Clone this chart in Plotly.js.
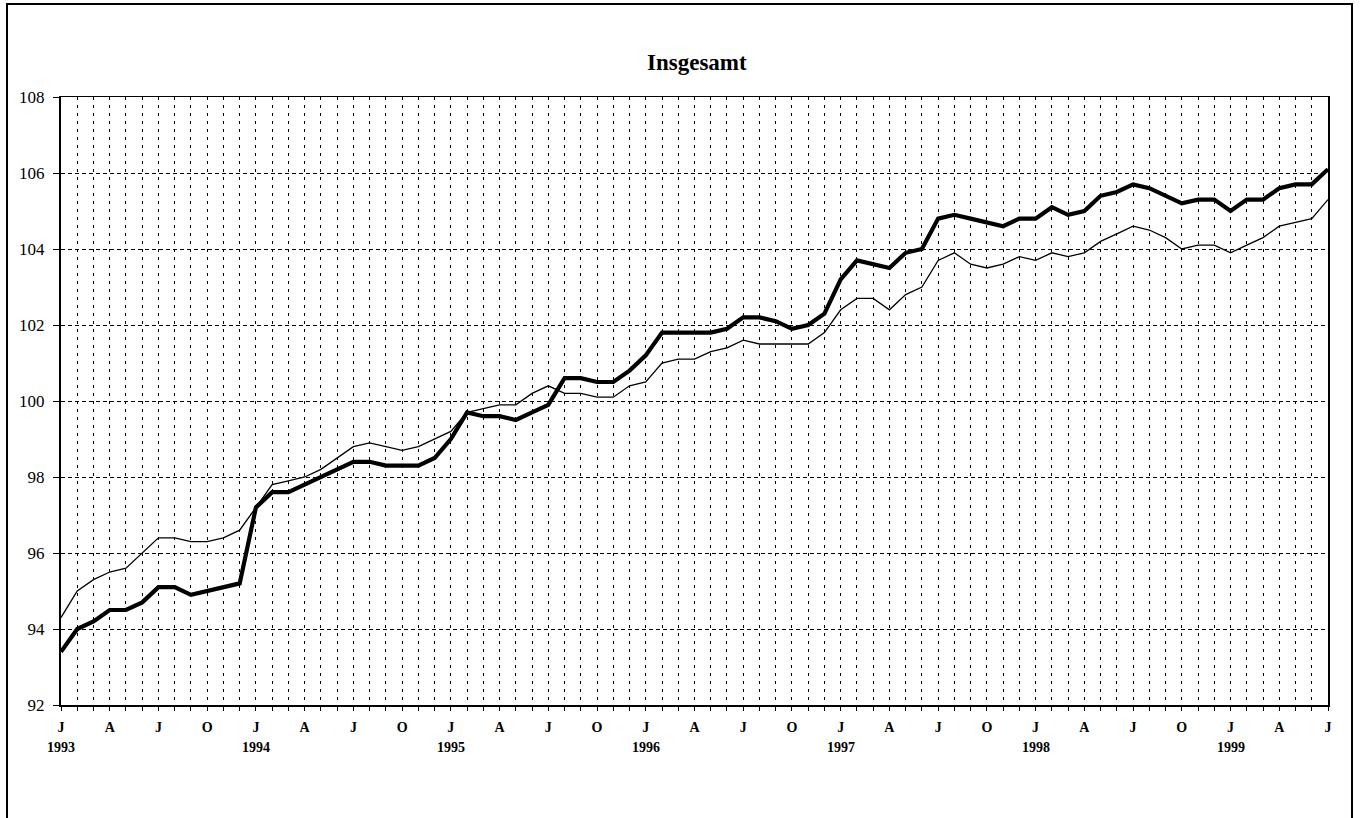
<!DOCTYPE html>
<html>
<head>
<meta charset="utf-8">
<script src="https://cdn.plot.ly/plotly-3.0.1.min.js"></script>
<style>html,body{margin:0;padding:0;background:#fff;}#chart{width:1361px;height:818px;}</style>
</head>
<body>
<div id="chart"></div>
<script>
// Monthly data, January 1993 to July 1999
var years = ['1993','1994','1995','1996','1997','1998','1999'];
var monthLetters = ['J','F','M','A','M','J','J','A','S','O','N','D'];
var thinSeries = [
  94.3, 95.0, 95.3, 95.5, 95.6, 96.0, 96.4, 96.4, 96.3, 96.3, 96.4, 96.6,
  97.2, 97.8, 97.9, 98.0, 98.2, 98.5, 98.8, 98.9, 98.8, 98.7, 98.8, 99.0,
  99.2, 99.7, 99.8, 99.9, 99.9, 100.2, 100.4, 100.2, 100.2, 100.1, 100.1, 100.4,
  100.5, 101.0, 101.1, 101.1, 101.3, 101.4, 101.6, 101.5, 101.5, 101.5, 101.5, 101.8,
  102.4, 102.7, 102.7, 102.4, 102.8, 103.0, 103.7, 103.9, 103.6, 103.5, 103.6, 103.8,
  103.7, 103.9, 103.8, 103.9, 104.2, 104.4, 104.6, 104.5, 104.3, 104.0, 104.1, 104.1,
  103.9, 104.1, 104.3, 104.6, 104.7, 104.8, 105.3
];
var thickSeries = [
  93.4, 94.0, 94.2, 94.5, 94.5, 94.7, 95.1, 95.1, 94.9, 95.0, 95.1, 95.2,
  97.2, 97.6, 97.6, 97.8, 98.0, 98.2, 98.4, 98.4, 98.3, 98.3, 98.3, 98.5,
  99.0, 99.7, 99.6, 99.6, 99.5, 99.7, 99.9, 100.6, 100.6, 100.5, 100.5, 100.8,
  101.2, 101.8, 101.8, 101.8, 101.8, 101.9, 102.2, 102.2, 102.1, 101.9, 102.0, 102.3,
  103.2, 103.7, 103.6, 103.5, 103.9, 104.0, 104.8, 104.9, 104.8, 104.7, 104.6, 104.8,
  104.8, 105.1, 104.9, 105.0, 105.4, 105.5, 105.7, 105.6, 105.4, 105.2, 105.3, 105.3,
  105.0, 105.3, 105.3, 105.6, 105.7, 105.7, 106.1
];
var yTicks = [92, 94, 96, 98, 100, 102, 104, 106, 108];

var n = thickSeries.length;
var xIdx = [], tickText = [];
for (var i = 0; i < n; i++) {
  xIdx.push(i);
  var m = i % 12;
  tickText.push(m % 3 === 0 ? '<b>' + monthLetters[m] + '</b>' : '');
}

var serif = 'Liberation Serif, Times New Roman, serif';

var traces = [
  {x: xIdx, y: thinSeries, mode: 'lines', line: {color: '#000', width: 1.3}, hoverinfo: 'skip', showlegend: false},
  {x: xIdx, y: thickSeries, mode: 'lines', line: {color: '#000', width: 4.2}, hoverinfo: 'skip', showlegend: false}
];

var annotations = years.map(function (yr, k) {
  return {x: k * 12, y: -42 / 608, xref: 'x', yref: 'paper', text: '<b>' + yr + '</b>',
    showarrow: false, xanchor: 'center', yanchor: 'middle', font: {family: serif, size: 14, color: '#000'}};
});

var layout = {
  width: 1361, height: 818,
  margin: {l: 61, r: 33, t: 97, b: 113},
  paper_bgcolor: '#fff', plot_bgcolor: '#fff',
  title: {text: '<b>Insgesamt</b>', x: 0.512, xanchor: 'center', y: 1 - 62 / 818, yanchor: 'middle',
    font: {family: serif, size: 23, color: '#000'}},
  xaxis: {
    range: [0, n - 1], tickmode: 'array', tickvals: xIdx, ticktext: tickText,
    ticks: 'outside', ticklen: 4, tickwidth: 1, tickcolor: '#000',
    showgrid: true, gridcolor: '#000', gridwidth: 1, griddash: '3px,5px',
    showline: true, linecolor: '#000', linewidth: 1.5, mirror: true,
    zeroline: false, tickangle: 0,
    tickfont: {family: serif, size: 14, color: '#000'},
    ticklabelstandoff: 5, fixedrange: true
  },
  yaxis: {
    range: [92, 108], tickmode: 'array', tickvals: yTicks,
    ticks: 'outside', ticklen: 6, tickwidth: 1, tickcolor: '#000',
    showgrid: true, gridcolor: '#000', gridwidth: 1, griddash: '4px,3px',
    showline: true, linecolor: '#000', linewidth: 2, mirror: true,
    zeroline: false, ticklabelstandoff: 5,
    tickfont: {family: serif, size: 17, color: '#000'}, fixedrange: true
  },
  annotations: annotations,
  shapes: [
    {type: 'rect', xref: 'paper', yref: 'paper', x0: (7 - 61) / 1267, x1: (1352 - 61) / 1267,
      y0: -0.25, y1: 1 + (97 - 4) / 608, line: {color: '#000', width: 2}, fillcolor: 'rgba(0,0,0,0)', layer: 'below'}
  ]
};

Plotly.newPlot('chart', traces, layout, {staticPlot: true, displayModeBar: false});
</script>
</body>
</html>
